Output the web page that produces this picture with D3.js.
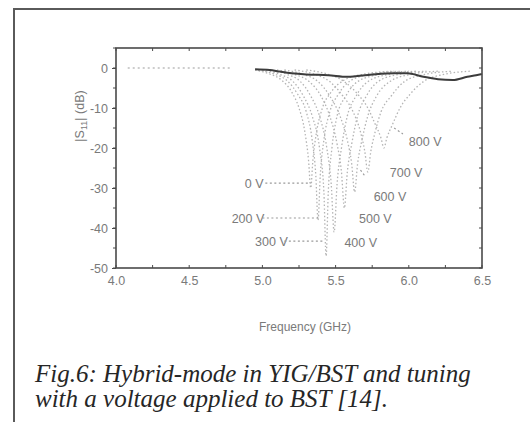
<!DOCTYPE html>
<html lang="en">
<head>
<meta charset="UTF-8">
<title>Hybrid-mode YIG/BST</title>
<script src="https://d3js.org/d3.v7.min.js"></script>
<style>
  body { margin: 0; background: #fff; }
  svg text { font-family: "Liberation Sans", Arial, sans-serif; }
</style>
</head>
<body>
<svg id="canvas"></svg>
<script>
// tick values + labels
let xTicks = [4.0, 4.5, 5.0, 5.5, 6.0, 6.5]
let xTickLabels = ["4.0", "4.5", "5.0", "5.5", "6.0", "6.5"]
let yTicks = [0, -10, -20, -30, -40, -50]
let yTickLabels = ["0", "-10", "-20", "-30", "-40", "-50"]

// measured traces, [GHz, dB]
let baseline = [[4.08, 0], [4.78, 0]]
let yigOnly = [[4.95, -0.3], [5.05, -0.5], [5.12, -0.9], [5.2, -1.3], [5.3, -1.6], [5.45, -1.8], [5.58, -2.2],
  [5.75, -1.6], [5.9, -1.3], [5.99, -1.3], [6.1, -2.2], [6.2, -2.8], [6.3, -3.0], [6.4, -2.2], [6.46, -1.8], [6.5, -1.5]]

let v0 = [[4.95, -0.5], [5.05, -1.5], [5.13, -3], [5.2, -6], [5.25, -10], [5.29, -16], [5.315, -23], [5.33, -30],
  [5.345, -23], [5.37, -16], [5.41, -10], [5.47, -6], [5.56, -3], [5.7, -1.5], [5.9, -0.8]]
let v200 = [[4.97, -0.5], [5.08, -1.5], [5.17, -3.2], [5.24, -6.5], [5.3, -11], [5.34, -18], [5.365, -27], [5.38, -38],
  [5.395, -27], [5.42, -18], [5.46, -11], [5.52, -6.5], [5.6, -3.2], [5.75, -1.5], [5.95, -0.8]]
let v300 = [[5.0, -0.5], [5.12, -1.6], [5.21, -3.4], [5.28, -7], [5.34, -12], [5.39, -20], [5.42, -31], [5.435, -47],
  [5.45, -31], [5.475, -20], [5.51, -12], [5.57, -7], [5.65, -3.4], [5.8, -1.6], [6.0, -0.8]]
let v400 = [[5.05, -0.5], [5.17, -1.6], [5.26, -3.4], [5.33, -7], [5.39, -12], [5.44, -20], [5.47, -29], [5.49, -41],
  [5.51, -29], [5.54, -20], [5.58, -12], [5.64, -7], [5.72, -3.4], [5.86, -1.6], [6.05, -0.8]]
let v500 = [[5.1, -0.5], [5.22, -1.6], [5.32, -3.4], [5.4, -7], [5.46, -12], [5.51, -19], [5.54, -26], [5.56, -35],
  [5.58, -26], [5.61, -19], [5.65, -12], [5.71, -7], [5.79, -3.4], [5.93, -1.6], [6.12, -0.8]]
let v600 = [[5.15, -0.5], [5.28, -1.6], [5.38, -3.4], [5.46, -7], [5.53, -12], [5.58, -18], [5.61, -24], [5.63, -31],
  [5.65, -24], [5.68, -18], [5.72, -12], [5.78, -7], [5.87, -3.4], [6.01, -1.6], [6.2, -0.8]]
let v700 = [[5.22, -0.5], [5.36, -1.6], [5.46, -3.4], [5.55, -7], [5.62, -11], [5.67, -16], [5.7, -21], [5.72, -26],
  [5.74, -21], [5.77, -16], [5.81, -11], [5.88, -7], [5.97, -3.4], [6.11, -1.6], [6.3, -0.8]]
let v800 = [[5.3, -0.5], [5.45, -1.6], [5.56, -3.4], [5.65, -6.5], [5.72, -10], [5.77, -14], [5.81, -17.5], [5.83, -20],
  [5.85, -17.5], [5.89, -14], [5.94, -10], [6.01, -6.5], [6.1, -3.4], [6.24, -1.6], [6.42, -0.8]]

let voltageCurves = [v0, v200, v300, v400, v500, v600, v700, v800]

// curve labels: text, where text starts, leader start/end (GHz)
let labelText = ["0 V", "200 V", "300 V", "400 V", "500 V", "600 V", "700 V", "800 V"]
let labelFreq = [4.88, 4.79, 4.95, 5.56, 5.66, 5.76, 5.87, 6.0]
let labelDb = [-28.8, -37.5, -43.3, -43.5, -37.5, -32, -26, -18.3]
let leaderFrom = [[5.02, -28.8], [5.0, -37.5], [5.15, -43.3], null, null, null, [5.67, -25.5], [5.9, -15]]
let leaderTo = [[5.33, -28.8], [5.38, -37.5], [5.415, -43.3], null, null, null, [5.7, -27], [5.96, -16.5]]

let width = 530
let height = 422

let svg = d3.select("#canvas")
  .attr("width", width)
  .attr("height", height)

let xScale = d3.scaleLinear().domain([4.0, 6.5]).range([116, 482])
let yScale = d3.scaleLinear().domain([-50, 5]).range([268, 48])

let axisColor = "#4a4a4a"
let textColor = "#7a7a7a"

// outer figure frame (left + top edge of the scanned box)
svg.append("path")
  .attr("d", "M14," + height + "V9H" + width)
  .attr("fill", "none")
  .attr("stroke", "#5a5a5a")
  .attr("stroke-width", 2)

let line = d3.line()
  .x(d => xScale(d[0]))
  .y(d => yScale(d[1]))
  .curve(d3.curveMonotoneX)

// the resonance dips
svg.append("g")
  .selectAll("path")
  .data(voltageCurves)
  .enter()
  .append("path")
  .attr("d", line)
  .attr("fill", "none")
  .attr("stroke", "#b4b4b4")
  .attr("stroke-width", 1.3)
  .attr("stroke-dasharray", "1.5,2.2")

svg.append("path")
  .datum(baseline)
  .attr("d", line)
  .attr("fill", "none")
  .attr("stroke", "#bdbdbd")
  .attr("stroke-width", 1.3)
  .attr("stroke-dasharray", "2,3")

svg.append("path")
  .datum(yigOnly)
  .attr("d", line)
  .attr("fill", "none")
  .attr("stroke", "#3c3c3c")
  .attr("stroke-width", 2)

// axes box
let xAxis = d3.axisBottom(xScale).tickValues(xTicks).tickFormat((d, i) => xTickLabels[i]).tickSize(0).tickPadding(8)
let yAxis = d3.axisLeft(yScale).tickValues(yTicks).tickFormat((d, i) => yTickLabels[i]).tickSize(4).tickPadding(4)

let gx = svg.append("g")
  .attr("transform", "translate(0," + yScale(-50) + ")")
  .call(xAxis)
let gy = svg.append("g")
  .attr("transform", "translate(" + xScale(4.0) + ",0)")
  .call(yAxis)

;[gx, gy].forEach(g => {
  g.select(".domain").remove()
  g.selectAll("text").attr("fill", textColor).attr("font-size", 12.5)
  g.selectAll("line").attr("stroke", axisColor)
})

svg.append("rect")
  .attr("x", xScale(4.0))
  .attr("y", yScale(5))
  .attr("width", xScale(6.5) - xScale(4.0))
  .attr("height", yScale(-50) - yScale(5))
  .attr("fill", "none")
  .attr("stroke", axisColor)
  .attr("stroke-width", 1.6)

// minor / inner ticks
let xMinor = d3.range(4.0, 6.51, 0.25)
let yMinor = d3.range(5, -50.1, -5)
svg.append("g").selectAll("line").data(xMinor).enter().append("line")
  .attr("x1", d => xScale(d)).attr("x2", d => xScale(d))
  .attr("y1", yScale(-50)).attr("y2", yScale(-50) - 3)
  .attr("stroke", axisColor)
svg.append("g").selectAll("line").data(xMinor).enter().append("line")
  .attr("x1", d => xScale(d)).attr("x2", d => xScale(d))
  .attr("y1", yScale(5)).attr("y2", yScale(5) + 3)
  .attr("stroke", axisColor)
svg.append("g").selectAll("line").data(yMinor).enter().append("line")
  .attr("x1", xScale(4.0)).attr("x2", xScale(4.0) - 3)
  .attr("y1", d => yScale(d)).attr("y2", d => yScale(d))
  .attr("stroke", axisColor)
svg.append("g").selectAll("line").data(yMinor).enter().append("line")
  .attr("x1", xScale(6.5)).attr("x2", xScale(6.5) - 3)
  .attr("y1", d => yScale(d)).attr("y2", d => yScale(d))
  .attr("stroke", axisColor)

// axis titles
svg.append("text")
  .attr("x", (xScale(4.0) + xScale(6.5)) / 2 + 6)
  .attr("y", 331)
  .attr("text-anchor", "middle")
  .attr("font-size", 12)
  .attr("fill", textColor)
  .text("Frequency (GHz)")

let yTitle = svg.append("text")
  .attr("transform", "translate(84," + yScale(-12) + ") rotate(-90)")
  .attr("text-anchor", "middle")
  .attr("font-size", 12.5)
  .attr("fill", textColor)
yTitle.append("tspan").text("|S")
yTitle.append("tspan").attr("font-size", 9).attr("dy", 3).text("11")
yTitle.append("tspan").attr("dy", -3).text("| (dB)")

// voltage labels with leaders
let labels = svg.append("g")
labelText.forEach((t, i) => {
  labels.append("text")
    .attr("x", xScale(labelFreq[i]))
    .attr("y", yScale(labelDb[i]) + 4.5)
    .attr("font-size", 12.5)
    .attr("fill", textColor)
    .text(t)
  if (leaderFrom[i]) {
    labels.append("line")
      .attr("x1", xScale(leaderFrom[i][0])).attr("y1", yScale(leaderFrom[i][1]))
      .attr("x2", xScale(leaderTo[i][0])).attr("y2", yScale(leaderTo[i][1]))
      .attr("stroke", "#9a9a9a")
      .attr("stroke-width", 1.2)
      .attr("stroke-dasharray", "2,2.5")
  }
})

// caption
let caption = ["Fig.6:  Hybrid-mode in YIG/BST and tuning", "with a voltage applied to BST [14]."]
svg.append("g").selectAll("text").data(caption).enter().append("text")
  .attr("x", 35)
  .attr("y", (d, i) => 382 + i * 25)
  .attr("font-style", "italic")
  .attr("font-size", 25)
  .attr("fill", "#262626")
  .style("font-family", "'Liberation Serif', serif")
  .text(d => d)
</script>
</body>
</html>
